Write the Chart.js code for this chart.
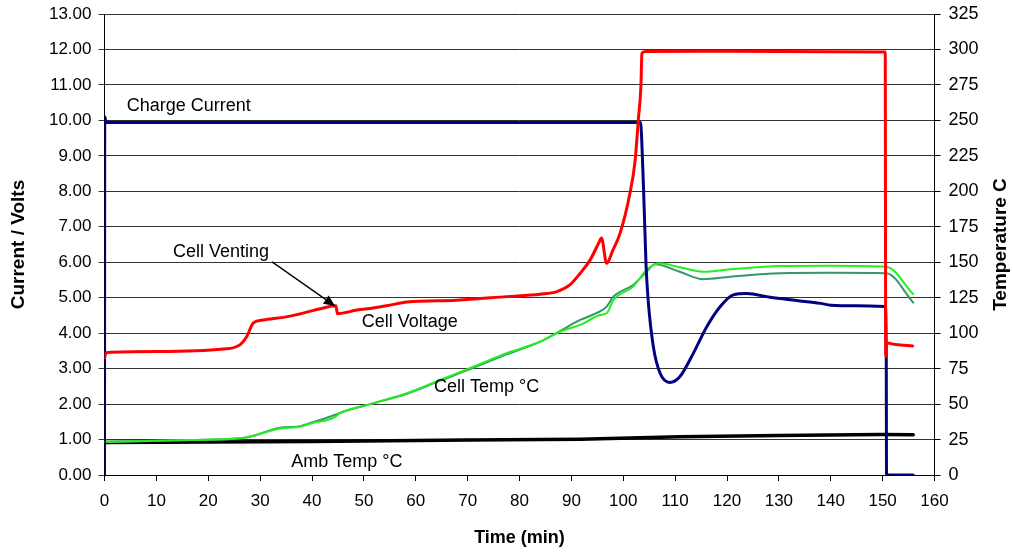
<!DOCTYPE html>
<html>
<head>
<meta charset="utf-8">
<script src="https://cdn.jsdelivr.net/npm/chart.js@4.4.1/dist/chart.umd.min.js"></script>
<style>
  html, body { margin: 0; padding: 0; background: #fff; }
  #wrap { width: 1013px; height: 552px; position: relative; }
</style>
</head>
<body>
<div id="wrap"><canvas id="c" width="1013" height="552"></canvas></div>
<script>
// Time axis (minutes) and series readings

// Charge current (A), left axis
const currentTime = [0, 0.05, 0.3, 103.3, 103.9, 104.4, 104.8, 105.8, 107.1, 109, 110.9, 113.5, 116.1, 118.7, 121.2, 123.8, 128.3, 133.4, 138, 140, 145, 150.5, 150.7, 150.75, 155.9];
const currentAmps = [0, 10.1, 9.94, 9.94, 8.13, 5.9, 4.93, 3.62, 2.87, 2.61, 2.77, 3.43, 4.18, 4.75, 5.08, 5.12, 5.01, 4.92, 4.84, 4.79, 4.77, 4.75, 3.34, 0, 0];

// Cell voltage (V), left axis
const voltTime = [0, 0.3, 10.1, 22.9, 26.1, 27.4, 28.7, 30.6, 35.8, 42.2, 44.6, 44.9, 48.7, 51.8, 55, 58.3, 67.9, 77.5, 84, 87.2, 89.7, 91.7, 93.6, 95.3, 95.8, 96.8, 98, 99.4, 101.3, 102.3, 102.9, 103.4, 103.6, 104.2, 120, 150.5, 150.6, 150.8, 152.5, 155.8];
const voltValues = [3.30, 3.45, 3.48, 3.55, 3.67, 3.90, 4.29, 4.37, 4.48, 4.71, 4.77, 4.55, 4.65, 4.71, 4.79, 4.88, 4.93, 5.03, 5.10, 5.17, 5.36, 5.69, 6.06, 6.55, 6.68, 5.97, 6.34, 6.82, 7.95, 8.88, 10.01, 10.95, 11.89, 11.94, 11.95, 11.93, 3.34, 3.72, 3.68, 3.64];

// Cell temperature, thermocouple A (°C), right axis
const cellTempATime = [0, 16.5, 26.1, 28, 34.5, 37, 40, 44.5, 45.3, 46, 51.8, 55, 58.3, 64.7, 71.1, 77.5, 84, 87.8, 91.7, 95.5, 96.8, 98.1, 101.9, 104.5, 106.8, 110.9, 115.4, 120.6, 130.3, 139.9, 150.7, 155.9];
const cellTempA = [23.3, 24.7, 25.9, 27, 33.2, 33.6, 36.5, 41, 43.5, 44.6, 50.5, 54, 57.6, 67, 76.3, 85.8, 94, 101, 105.8, 112.8, 114, 123.3, 132.8, 144.5, 149.3, 146.5, 143.3, 145, 147.3, 147.5, 146.8, 127.5];

// Cell temperature, thermocouple B (°C), right axis
const cellTempBTime = [0, 16.5, 26.1, 28, 34.5, 37, 40, 44.5, 46, 51.8, 58.3, 64.7, 71.1, 77.5, 84, 87.8, 91.7, 95.5, 96.8, 98.1, 101.9, 104.5, 106.1, 110.9, 115.4, 120.6, 130.3, 139.9, 150.7, 155.9];
const cellTempB = [23.3, 24.6, 25.9, 27, 33.6, 34, 37, 42.5, 44.6, 50.5, 57.3, 66.5, 75.5, 85, 94, 101.5, 109.3, 115.3, 118.7, 125.8, 134, 143.3, 148.5, 143.3, 138, 139.8, 142.3, 142.5, 142.3, 121.5];

// Ambient temperature (°C), right axis
const ambTime = [0, 20, 40, 55, 70, 91.7, 110.9, 130, 149.5, 155.9];
const ambTemp = [23, 23.3, 23.7, 24.2, 24.6, 25.2, 27, 27.8, 28.5, 28.3];

// Tick labels
const timeTicks = [0, 10, 20, 30, 40, 50, 60, 70, 80, 90, 100, 110, 120, 130, 140, 150, 160];
const leftTicks = [0, 1, 2, 3, 4, 5, 6, 7, 8, 9, 10, 11, 12, 13];
const rightTicks = [0, 25, 50, 75, 100, 125, 150, 175, 200, 225, 250, 275, 300, 325];

// Text labels placed in data coordinates (time, left-axis value)
const notes = [
  { text: 'Charge Current', x: 4.3, y: 10.41 },
  { text: 'Cell Venting', x: 13.2, y: 6.29 },
  { text: 'Cell Voltage', x: 49.6, y: 4.31 },
  { text: 'Cell Temp °C', x: 63.5, y: 2.48 },
  { text: 'Amb Temp °C', x: 36.0, y: 0.37 }
];
const ventArrow = { x1: 32.3, y1: 6.01, x2: 44.4, y2: 4.77 };

const FONT = "'Liberation Sans', Arial, sans-serif";

function pts(xs, ys) { return xs.map((x, i) => ({ x: x, y: ys[i] })); }

const notesPlugin = {
  id: 'notes',
  afterDatasetsDraw(chart) {
    const ctx = chart.ctx;
    const xs = chart.scales.x, ys = chart.scales.y;
    ctx.save();
    ctx.fillStyle = '#000';
    ctx.font = '18px ' + FONT;
    ctx.textAlign = 'left';
    ctx.textBaseline = 'middle';
    notes.forEach(n => ctx.fillText(n.text, xs.getPixelForValue(n.x), ys.getPixelForValue(n.y)));
    // arrow to the venting step
    const ax1 = xs.getPixelForValue(ventArrow.x1), ay1 = ys.getPixelForValue(ventArrow.y1);
    const ax2 = xs.getPixelForValue(ventArrow.x2), ay2 = ys.getPixelForValue(ventArrow.y2);
    ctx.strokeStyle = '#000';
    ctx.lineWidth = 1.3;
    ctx.beginPath(); ctx.moveTo(ax1, ay1); ctx.lineTo(ax2, ay2); ctx.stroke();
    const ang = Math.atan2(ay2 - ay1, ax2 - ax1);
    const L = 11, W = 5;
    ctx.beginPath();
    ctx.moveTo(ax2, ay2);
    ctx.lineTo(ax2 - L * Math.cos(ang) + W * Math.sin(ang), ay2 - L * Math.sin(ang) - W * Math.cos(ang));
    ctx.lineTo(ax2 - L * Math.cos(ang) - W * Math.sin(ang), ay2 - L * Math.sin(ang) + W * Math.cos(ang));
    ctx.closePath();
    ctx.fill();

    // axis titles
    const area = chart.chartArea;
    const midY = (area.top + area.bottom) / 2;
    ctx.font = 'bold 19px ' + FONT;
    ctx.textAlign = 'center';
    ctx.save();
    ctx.translate(19, midY);
    ctx.rotate(-Math.PI / 2);
    ctx.fillText('Current / Volts', 0, 0);
    ctx.restore();
    ctx.save();
    ctx.translate(1001, midY);
    ctx.rotate(-Math.PI / 2);
    ctx.fillText('Temperature C', 0, 0);
    ctx.restore();
    ctx.font = 'bold 18px ' + FONT;
    ctx.fillText('Time (min)', (area.left + area.right) / 2, 538);
    ctx.restore();
  }
};

const smooth = { cubicInterpolationMode: 'monotone' };

// vertical axes: fixed width, no extra room reserved above the top label
function fitVertical(width) {
  return s => { s.width = width; s.paddingTop = 0; s.paddingBottom = 0; };
}

new Chart(document.getElementById('c'), {
  type: 'line',
  data: {
    datasets: [
      Object.assign({ label: 'Cell Voltage', data: pts(voltTime, voltValues), yAxisID: 'y', borderColor: '#ff0000', borderWidth: 3, order: 0 }, smooth),
      Object.assign({ label: 'Charge Current', data: pts(currentTime, currentAmps), yAxisID: 'y', borderColor: '#000080', borderWidth: 3, order: 1 }, smooth),
      Object.assign({ label: 'Cell Temp A', data: pts(cellTempATime, cellTempA), yAxisID: 'y2', borderColor: '#22ee22', borderWidth: 2, order: 2 }, smooth),
      Object.assign({ label: 'Cell Temp B', data: pts(cellTempBTime, cellTempB), yAxisID: 'y2', borderColor: '#339966', borderWidth: 2, order: 3 }, smooth),
      { label: 'Amb Temp', data: pts(ambTime, ambTemp), yAxisID: 'y2', borderColor: '#000000', borderWidth: 3.5, order: 4 }
    ]
  },
  options: {
    responsive: false,
    animation: false,
    elements: { point: { radius: 0 }, line: { tension: 0, borderJoinStyle: 'round', borderCapStyle: 'round' } },
    layout: { padding: { top: 14, bottom: 0, left: 0, right: 0 } },
    plugins: { legend: { display: false }, tooltip: { enabled: false } },
    scales: {
      x: {
        type: 'linear', min: 0, max: 160,
        afterBuildTicks: s => { s.ticks = timeTicks.map(v => ({ value: v })); },
        afterFit: s => { s.height = 77; },
        grid: { drawOnChartArea: false, drawTicks: true, tickLength: 6, color: '#000', lineWidth: 1 },
        border: { display: true, color: '#000', width: 1 },
        ticks: { color: '#000', font: { family: FONT, size: 17 }, padding: 10, maxRotation: 0, autoSkip: false }
      },
      y: {
        type: 'linear', position: 'left', min: 0, max: 13,
        afterBuildTicks: s => { s.ticks = leftTicks.map(v => ({ value: v })); },
        afterFit: fitVertical(104.5),
        grid: { drawOnChartArea: true, drawTicks: true, tickLength: 6, color: '#333', lineWidth: 1 },
        border: { display: true, color: '#000', width: 1 },
        ticks: { color: '#000', font: { family: FONT, size: 17 }, padding: 7, callback: v => Number(v).toFixed(2) }
      },
      y2: {
        type: 'linear', position: 'right', min: 0, max: 325,
        afterBuildTicks: s => { s.ticks = rightTicks.map(v => ({ value: v })); },
        afterFit: fitVertical(78.5),
        grid: { drawOnChartArea: false, drawTicks: true, tickLength: 6, color: '#000', lineWidth: 1 },
        border: { display: true, color: '#000', width: 1 },
        ticks: { color: '#000', font: { family: FONT, size: 18 }, padding: 8 }
      }
    }
  },
  plugins: [notesPlugin]
});
</script>
</body>
</html>
